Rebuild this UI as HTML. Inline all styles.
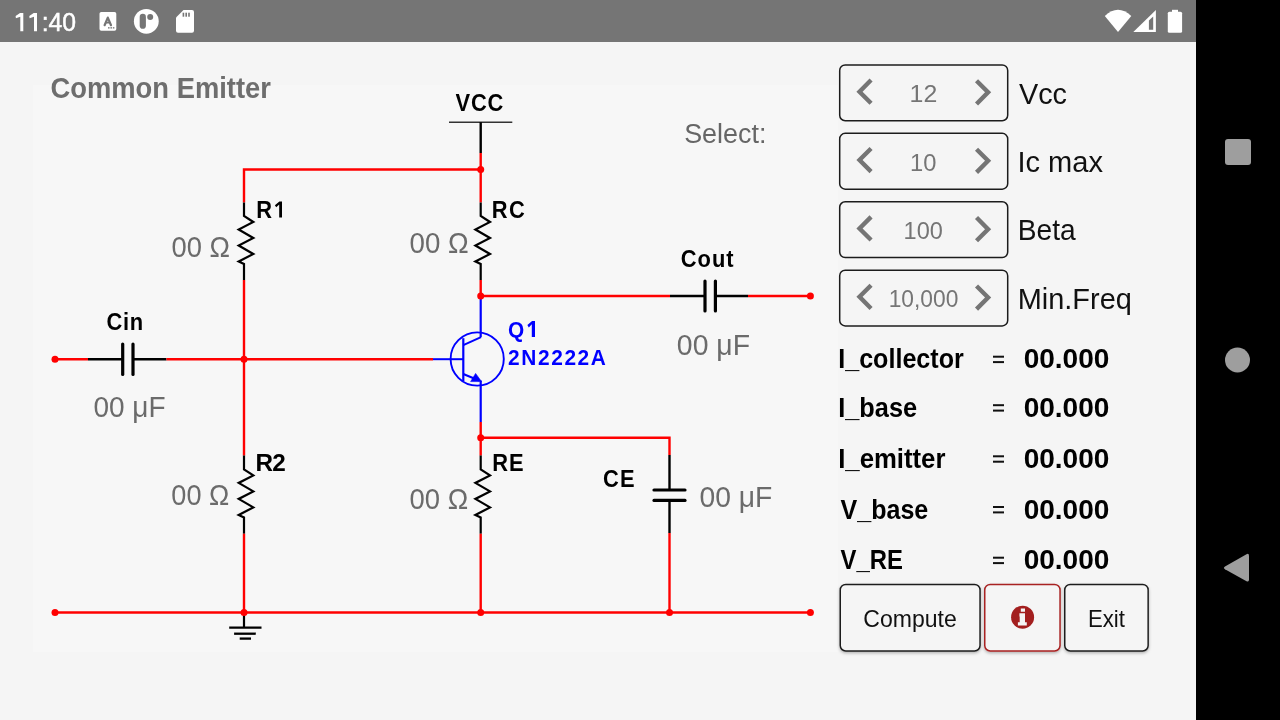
<!DOCTYPE html>
<html><head><meta charset="utf-8">
<style>
html,body{margin:0;padding:0;width:1280px;height:720px;overflow:hidden;background:#f5f5f5;}
svg{display:block;}
text{font-family:"Liberation Sans",sans-serif;}
</style></head>
<body>
<svg width="1280" height="720" viewBox="0 0 1280 720">
<rect x="0" y="0" width="1280" height="720" fill="#f5f5f5"/>
<rect x="33" y="85" width="805" height="567" fill="#f7f7f7"/>

<rect x="0" y="0" width="1280" height="42" fill="#757575"/>
<rect x="99.5" y="12" width="16.8" height="18.8" rx="1.8" fill="#fff"/>
<path d="M104.6 25.2 L107.8 17.6 L111 25.2" fill="none" stroke="#757575" stroke-width="2.2" stroke-linejoin="round" stroke-linecap="round"/>
<path d="M105.8 22.6 H109.8" stroke="#757575" stroke-width="1.8"/>
<rect x="108" y="27.2" width="1.6" height="1.3" fill="#757575"/><rect x="110.4" y="27.2" width="1.6" height="1.3" fill="#757575"/><rect x="112.8" y="27.2" width="1.6" height="1.3" fill="#757575"/>
<circle cx="146.3" cy="21.3" r="12.4" fill="#fff"/>
<rect x="139.7" y="13.8" width="6.2" height="15" rx="3.1" fill="#757575"/>
<circle cx="150.2" cy="17" r="3" fill="#757575"/>
<path d="M183.5 10.1 H192 Q194 10.1 194 12.1 V30.7 Q194 32.7 192 32.7 H178 Q176 32.7 176 30.7 V17.6 Z" fill="#fff"/>
<rect x="182.6" y="12.7" width="1.6" height="4" fill="#757575"/><rect x="185.4" y="12.7" width="1.6" height="4" fill="#757575"/><rect x="188.2" y="12.7" width="1.6" height="4" fill="#757575"/>
<path d="M1104.8 16 Q1118 3.5 1131.3 16 L1118 32 Z" fill="#fff"/>
<path d="M1133.3 32 L1155.9 10 L1155.9 32 Z" fill="#fff"/>
<path d="M1148.9 20.4 L1153.2 16.4 L1153.2 29.7 L1148.9 29.7 Z" fill="#757575"/>
<rect x="1167.8" y="11.7" width="14.3" height="21.1" rx="1.6" fill="#fff"/>
<rect x="1172" y="9.8" width="6" height="2.5" fill="#fff"/>


<rect x="1196" y="0" width="84" height="720" fill="#000"/>
<rect x="1225" y="139" width="26" height="26" rx="3" fill="#9e9e9e"/>
<circle cx="1237.5" cy="360" r="12.5" fill="#9e9e9e"/>
<path d="M1246.5 554.2 Q1249 553 1249 556 L1249 579.5 Q1249 582.5 1246.5 581.2 L1225 569.2 Q1222.8 567.8 1225 566.4 Z" fill="#9e9e9e"/>

<g id="circuit">
<path d="M244 202.5 L244 169.5 L481 169.5" stroke="#ff0000" stroke-width="2.4" fill="none" stroke-linejoin="miter" stroke-linecap="butt"/>
<path d="M244.00 202.50 L244.00 216.00 L253.30 222.00 L238.70 229.50 L253.30 238.00 L238.70 245.50 L253.30 254.00 L238.70 261.50 L244.00 264.00 L244.00 280.00" stroke="#000000" stroke-width="2.2" fill="none" stroke-linejoin="miter" stroke-linecap="butt"/>
<line x1="244" y1="280" x2="244" y2="455.6" stroke="#ff0000" stroke-width="2.4" stroke-linecap="butt"/>
<path d="M244.00 455.60 L244.00 469.40 L253.30 475.40 L238.70 482.90 L253.30 491.40 L238.70 498.90 L253.30 507.40 L238.70 514.90 L244.00 517.40 L244.00 533.75" stroke="#000000" stroke-width="2.2" fill="none" stroke-linejoin="miter" stroke-linecap="butt"/>
<line x1="244" y1="533.75" x2="244" y2="612.5" stroke="#ff0000" stroke-width="2.4" stroke-linecap="butt"/>
<line x1="449" y1="122.2" x2="512.3" y2="122.2" stroke="#333333" stroke-width="1.6" stroke-linecap="butt"/>
<line x1="480.7" y1="122.2" x2="480.7" y2="153" stroke="#000000" stroke-width="2.4" stroke-linecap="butt"/>
<line x1="480.7" y1="153" x2="480.7" y2="202.5" stroke="#ff0000" stroke-width="2.4" stroke-linecap="butt"/>
<path d="M480.70 202.50 L480.70 216.00 L490.00 222.00 L475.40 229.50 L490.00 238.00 L475.40 245.50 L490.00 254.00 L475.40 261.50 L480.70 264.00 L480.70 280.00" stroke="#000000" stroke-width="2.2" fill="none" stroke-linejoin="miter" stroke-linecap="butt"/>
<line x1="480.7" y1="280" x2="480.7" y2="296" stroke="#ff0000" stroke-width="2.4" stroke-linecap="butt"/>
<line x1="480.7" y1="296" x2="670" y2="296" stroke="#ff0000" stroke-width="2.4" stroke-linecap="butt"/>
<line x1="670" y1="296" x2="705" y2="296" stroke="#000000" stroke-width="2.4" stroke-linecap="butt"/>
<line x1="715.4" y1="296" x2="748" y2="296" stroke="#000000" stroke-width="2.4" stroke-linecap="butt"/>
<line x1="705" y1="281" x2="705" y2="311" stroke="#000000" stroke-width="3.2" stroke-linecap="round"/>
<line x1="715.4" y1="281" x2="715.4" y2="311" stroke="#000000" stroke-width="3.2" stroke-linecap="round"/>
<line x1="748" y1="296" x2="810" y2="296" stroke="#ff0000" stroke-width="2.4" stroke-linecap="butt"/>
<line x1="480.7" y1="296" x2="480.7" y2="337.2" stroke="#0000ff" stroke-width="2.2" stroke-linecap="butt"/>
<path d="M481 337.2 L463.3 345.2" stroke="#0000ff" stroke-width="2.0" fill="none" stroke-linejoin="miter" stroke-linecap="butt"/>
<line x1="463.3" y1="338.2" x2="463.3" y2="381.4" stroke="#0000ff" stroke-width="2.2" stroke-linecap="butt"/>
<circle cx="477.2" cy="359" r="26.6" fill="none" stroke="#0000ff" stroke-width="1.9"/>
<line x1="433" y1="359.2" x2="463.3" y2="359.2" stroke="#0000ff" stroke-width="2.0" stroke-linecap="butt"/>
<path d="M463.3 374 L479 380.5" stroke="#0000ff" stroke-width="2.0" fill="none" stroke-linejoin="miter" stroke-linecap="butt"/>
<path d="M481.5 381.6 L470.6 381.6 L475.6 373.4 Z" stroke="#0000ff" stroke-width="0.6" fill="#0000ff" stroke-linejoin="miter" stroke-linecap="butt"/>
<line x1="480.7" y1="380.5" x2="480.7" y2="422" stroke="#0000ff" stroke-width="2.2" stroke-linecap="butt"/>
<line x1="55" y1="359.2" x2="88" y2="359.2" stroke="#ff0000" stroke-width="2.4" stroke-linecap="butt"/>
<line x1="88" y1="359.2" x2="122.7" y2="359.2" stroke="#000000" stroke-width="2.4" stroke-linecap="butt"/>
<line x1="133" y1="359.2" x2="166.5" y2="359.2" stroke="#000000" stroke-width="2.4" stroke-linecap="butt"/>
<line x1="122.7" y1="344" x2="122.7" y2="374.5" stroke="#000000" stroke-width="3.2" stroke-linecap="round"/>
<line x1="133" y1="344" x2="133" y2="374.5" stroke="#000000" stroke-width="3.2" stroke-linecap="round"/>
<line x1="166.5" y1="359.2" x2="433" y2="359.2" stroke="#ff0000" stroke-width="2.4" stroke-linecap="butt"/>
<line x1="480.7" y1="422" x2="480.7" y2="455.6" stroke="#ff0000" stroke-width="2.4" stroke-linecap="butt"/>
<path d="M480.70 455.60 L480.70 469.40 L490.00 475.40 L475.40 482.90 L490.00 491.40 L475.40 498.90 L490.00 507.40 L475.40 514.90 L480.70 517.40 L480.70 533.75" stroke="#000000" stroke-width="2.2" fill="none" stroke-linejoin="miter" stroke-linecap="butt"/>
<line x1="480.7" y1="533.75" x2="480.7" y2="612.5" stroke="#ff0000" stroke-width="2.4" stroke-linecap="butt"/>
<path d="M481 437.7 L669.5 437.7 L669.5 455" stroke="#ff0000" stroke-width="2.4" fill="none" stroke-linejoin="miter" stroke-linecap="butt"/>
<line x1="669.5" y1="455" x2="669.5" y2="490" stroke="#000000" stroke-width="2.4" stroke-linecap="butt"/>
<line x1="669.5" y1="500.4" x2="669.5" y2="533" stroke="#000000" stroke-width="2.4" stroke-linecap="butt"/>
<line x1="654" y1="490" x2="685" y2="490" stroke="#000000" stroke-width="3.2" stroke-linecap="round"/>
<line x1="654" y1="500.4" x2="685" y2="500.4" stroke="#000000" stroke-width="3.2" stroke-linecap="round"/>
<line x1="669.5" y1="533" x2="669.5" y2="612.5" stroke="#ff0000" stroke-width="2.4" stroke-linecap="butt"/>
<line x1="55" y1="612.5" x2="810" y2="612.5" stroke="#ff0000" stroke-width="2.4" stroke-linecap="butt"/>
<line x1="244" y1="612.5" x2="244" y2="627.6" stroke="#000000" stroke-width="2.2" stroke-linecap="butt"/>
<line x1="229.2" y1="627.6" x2="261.5" y2="627.6" stroke="#000000" stroke-width="2.4" stroke-linecap="butt"/>
<line x1="234.1" y1="633.7" x2="255.8" y2="633.7" stroke="#000000" stroke-width="2.3" stroke-linecap="butt"/>
<line x1="239.7" y1="638.6" x2="251" y2="638.6" stroke="#000000" stroke-width="2.3" stroke-linecap="butt"/>
<circle cx="480.7" cy="169.5" r="3.5" fill="#ff0000"/>
<circle cx="480.7" cy="296" r="3.5" fill="#ff0000"/>
<circle cx="244" cy="359.2" r="3.5" fill="#ff0000"/>
<circle cx="55" cy="359.2" r="3.5" fill="#ff0000"/>
<circle cx="480.7" cy="437.7" r="3.5" fill="#ff0000"/>
<circle cx="55" cy="612.5" r="3.5" fill="#ff0000"/>
<circle cx="244" cy="612.5" r="3.5" fill="#ff0000"/>
<circle cx="480.7" cy="612.5" r="3.5" fill="#ff0000"/>
<circle cx="669.5" cy="612.5" r="3.5" fill="#ff0000"/>
<circle cx="810.4" cy="612.5" r="3.5" fill="#ff0000"/>
<circle cx="810.4" cy="296" r="3.5" fill="#ff0000"/>
</g>
<g id="panel">
<rect x="839.7" y="64.95" width="168" height="55.8" rx="5.5" fill="none" stroke="#1c1c1c" stroke-width="1.5"/>
<path transform="translate(838.9 65.40) scale(2.1875)" d="M15.41 7.41L14 6l-6 6 6 6 1.41-1.41L10.83 12z" fill="#757575"/>
<path transform="translate(956.2 66.10) scale(2.1875)" d="M10 6L8.59 7.41 13.17 12l-4.58 4.59L10 18l6-6z" fill="#757575"/>
<rect x="839.7" y="133.35" width="168" height="55.8" rx="5.5" fill="none" stroke="#1c1c1c" stroke-width="1.5"/>
<path transform="translate(838.9 133.80) scale(2.1875)" d="M15.41 7.41L14 6l-6 6 6 6 1.41-1.41L10.83 12z" fill="#757575"/>
<path transform="translate(956.2 134.50) scale(2.1875)" d="M10 6L8.59 7.41 13.17 12l-4.58 4.59L10 18l6-6z" fill="#757575"/>
<rect x="839.7" y="201.75" width="168" height="55.8" rx="5.5" fill="none" stroke="#1c1c1c" stroke-width="1.5"/>
<path transform="translate(838.9 202.20) scale(2.1875)" d="M15.41 7.41L14 6l-6 6 6 6 1.41-1.41L10.83 12z" fill="#757575"/>
<path transform="translate(956.2 202.90) scale(2.1875)" d="M10 6L8.59 7.41 13.17 12l-4.58 4.59L10 18l6-6z" fill="#757575"/>
<rect x="839.7" y="270.15" width="168" height="55.8" rx="5.5" fill="none" stroke="#1c1c1c" stroke-width="1.5"/>
<path transform="translate(838.9 270.60) scale(2.1875)" d="M15.41 7.41L14 6l-6 6 6 6 1.41-1.41L10.83 12z" fill="#757575"/>
<path transform="translate(956.2 271.30) scale(2.1875)" d="M10 6L8.59 7.41 13.17 12l-4.58 4.59L10 18l6-6z" fill="#757575"/>
<rect x="993" y="355.7" width="11" height="2" fill="#111"/>
<rect x="993" y="361.1" width="11" height="2" fill="#111"/>
<rect x="993" y="404.2" width="11" height="2" fill="#111"/>
<rect x="993" y="409.6" width="11" height="2" fill="#111"/>
<rect x="993" y="455.3" width="11" height="2" fill="#111"/>
<rect x="993" y="460.7" width="11" height="2" fill="#111"/>
<rect x="993" y="506.0" width="11" height="2" fill="#111"/>
<rect x="993" y="511.4" width="11" height="2" fill="#111"/>
<rect x="993" y="556.7" width="11" height="2" fill="#111"/>
<rect x="993" y="562.1" width="11" height="2" fill="#111"/>

<filter id="sh" x="-10%" y="-10%" width="120%" height="130%"><feDropShadow dx="0" dy="1.5" stdDeviation="1.5" flood-color="#000" flood-opacity="0.28"/></filter>

<rect x="840.25" y="584.4" width="139.8" height="66.6" rx="5.5" fill="#f5f5f5" stroke="#1e1e1e" stroke-width="1.5" filter="url(#sh)"/>
<rect x="984.75" y="584.4" width="75.3" height="66.6" rx="5.5" fill="#f5f5f5" stroke="#a82222" stroke-width="1.5" filter="url(#sh)"/>
<rect x="1064.75" y="584.4" width="83.4" height="66.6" rx="5.5" fill="#f5f5f5" stroke="#1e1e1e" stroke-width="1.5" filter="url(#sh)"/>
<circle cx="1022.6" cy="617.2" r="11.5" fill="#a31f1f"/>
<path d="M1020.8 608.4h4.2v3.3h-4.2z M1019.4 613.3h5.6v9h1.8v3.3h-8.9v-3.3h1.8v-5.7h-0.3z" fill="#f5f5f5"/>
</g>
<g id="texts" style="will-change:transform">
<text transform="translate(41.67 31.25) scale(0.9415 1)" font-size="26.30" fill="#ffffff" stroke="#fff" stroke-width="0.5">:40</text>
<text transform="translate(50.51 98.20) scale(0.9121 1)" font-size="30.00" font-weight="bold" fill="#6e6e6e">Common Emitter</text>
<text transform="translate(455.58 110.70) scale(0.9000 1)" font-size="24.30" letter-spacing="0.905" font-weight="bold" fill="#000000">VCC</text>
<text transform="translate(256.37 217.70) scale(0.9000 1)" font-size="24.30" letter-spacing="0.000" font-weight="bold" fill="#000000">R</text>
<text transform="translate(491.77 217.70) scale(0.9000 1)" font-size="24.30" letter-spacing="1.639" font-weight="bold" fill="#000000">RC</text>
<text transform="translate(255.40 470.90) scale(1.0000 1)" font-size="24.30" letter-spacing="-0.631" font-weight="bold" fill="#000000">R2</text>
<text transform="translate(492.27 470.80) scale(0.9000 1)" font-size="24.30" letter-spacing="1.118" font-weight="bold" fill="#000000">RE</text>
<text transform="translate(602.93 486.60) scale(0.9000 1)" font-size="24.30" letter-spacing="1.389" font-weight="bold" fill="#000000">CE</text>
<text transform="translate(106.43 330.00) scale(0.9000 1)" font-size="24.30" letter-spacing="0.820" font-weight="bold" fill="#000000">Cin</text>
<text transform="translate(680.63 267.00) scale(0.9000 1)" font-size="24.30" letter-spacing="1.196" font-weight="bold" fill="#000000">Cout</text>
<text transform="translate(508.06 336.90) scale(0.9500 1)" font-size="22.00" letter-spacing="0.000" font-weight="bold" fill="#0000ff">Q</text>
<text transform="translate(507.97 364.80) scale(0.9500 1)" font-size="22.00" letter-spacing="1.710" font-weight="bold" fill="#0000ff">2N2222A</text>
<text transform="translate(171.50 257.40) scale(0.9281 1)" font-size="29.50" fill="#6b6b6b">00 Ω</text>
<text transform="translate(409.59 252.70) scale(0.9380 1)" font-size="29.50" fill="#6b6b6b">00 Ω</text>
<text transform="translate(171.31 505.10) scale(0.9199 1)" font-size="29.50" fill="#6b6b6b">00 Ω</text>
<text transform="translate(409.60 508.60) scale(0.9297 1)" font-size="29.50" fill="#6b6b6b">00 Ω</text>
<text transform="translate(93.38 416.70) scale(0.9492 1)" font-size="29.50" fill="#6b6b6b">00 μF</text>
<text transform="translate(676.86 354.60) scale(0.9627 1)" font-size="29.50" fill="#6b6b6b">00 μF</text>
<text transform="translate(699.47 506.90) scale(0.9580 1)" font-size="29.50" fill="#6b6b6b">00 μF</text>
<text transform="translate(684.15 142.70) scale(0.9493 1)" font-size="28.36" fill="#666666">Select:</text>
<text transform="translate(909.61 102.10) scale(1.0595 1)" font-size="23.50" fill="#757575">12</text>
<text transform="translate(910.10 170.50) scale(1.0101 1)" font-size="23.50" fill="#757575">10</text>
<text transform="translate(903.62 238.90) scale(1.0021 1)" font-size="23.50" fill="#757575">100</text>
<text transform="translate(888.68 307.30) scale(0.9697 1)" font-size="23.50" fill="#757575">10,000</text>
<text transform="translate(1018.96 103.60) scale(0.9943 1)" font-size="29.00" fill="#111111">Vcc</text>
<text transform="translate(1017.39 172.00) scale(1.0017 1)" font-size="29.00" fill="#111111">Ic max</text>
<text transform="translate(1017.75 240.40) scale(0.9709 1)" font-size="29.00" fill="#111111">Beta</text>
<text transform="translate(1017.68 308.80) scale(0.9982 1)" font-size="29.00" fill="#111111">Min.Freq</text>
<text transform="translate(838.24 368.30) scale(0.9366 1)" font-size="26.80" font-weight="bold" fill="#000000">I_collector</text>
<text transform="translate(838.23 416.90) scale(0.9452 1)" font-size="26.80" font-weight="bold" fill="#000000">I_base</text>
<text transform="translate(838.20 467.75) scale(0.9602 1)" font-size="26.80" font-weight="bold" fill="#000000">I_emitter</text>
<text transform="translate(840.55 518.50) scale(0.9350 1)" font-size="26.80" font-weight="bold" fill="#000000">V_base</text>
<text transform="translate(840.56 569.20) scale(0.8906 1)" font-size="26.80" font-weight="bold" fill="#000000">V_RE</text>
<text transform="translate(1023.63 368.10) scale(1.0207 1)" font-size="27.50" font-weight="bold" fill="#000000">00.000</text>
<text transform="translate(1023.63 416.50) scale(1.0207 1)" font-size="27.50" font-weight="bold" fill="#000000">00.000</text>
<text transform="translate(1023.63 467.90) scale(1.0207 1)" font-size="27.50" font-weight="bold" fill="#000000">00.000</text>
<text transform="translate(1023.63 518.50) scale(1.0207 1)" font-size="27.50" font-weight="bold" fill="#000000">00.000</text>
<text transform="translate(1023.63 569.20) scale(1.0207 1)" font-size="27.50" font-weight="bold" fill="#000000">00.000</text>
<text transform="translate(863.35 626.80) scale(0.9684 1)" font-size="23.80" fill="#111111">Compute</text>
<text transform="translate(1087.93 626.60) scale(0.9308 1)" font-size="23.80" fill="#111111">Exit</text>
<path d="M20 12.9 L23.3 12.9 L23.3 31.2 L20.3 31.2 L20.3 16.7 L15.9 18.3 L15.6 15.9 Z M33.7 12.9 L37 12.9 L37 31.2 L34 31.2 L34 16.7 L29.6 18.3 L29.3 15.9 Z" fill="#fff"/>
<path d="M532.1 320.9 L535 320.9 L535 336.9 L531.8 336.9 L531.8 324.3 L528.8 327.4 L527.4 325 Z" fill="#0000ff"/>
<path d="M279.4 201.6 L282 201.6 L282 217.5 L279.2 217.5 L279.2 204.6 L276.2 207.3 L274.9 205.3 Z" fill="#000"/>
</g>
</svg>
</body></html>
